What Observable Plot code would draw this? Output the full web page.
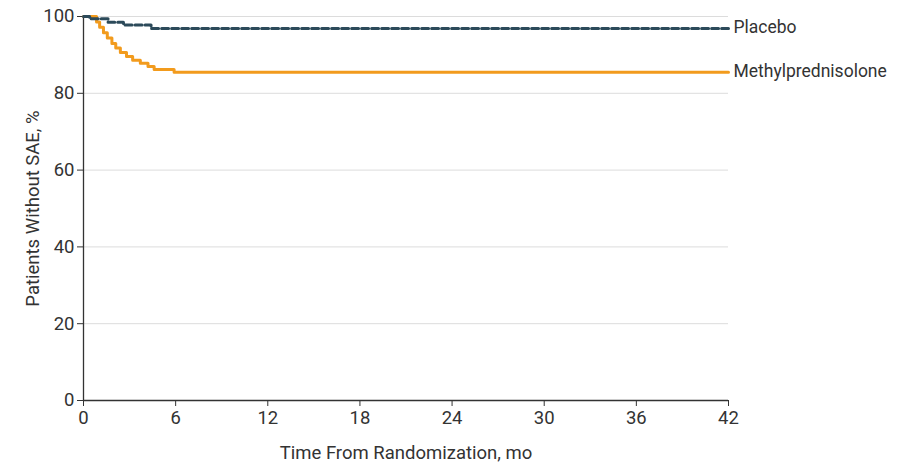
<!DOCTYPE html>
<html>
<head>
<meta charset="utf-8">
<script src="https://cdn.jsdelivr.net/npm/d3@7"></script>
<script src="https://cdn.jsdelivr.net/npm/@observablehq/plot@0.6"></script>
<style>
  html, body { margin: 0; padding: 0; background: #fff; }
  #chart { width: 901px; height: 463px; }
</style>
</head>
<body>
<div id="chart"></div>
<script>
// Kaplan-Meier style step data (time in months, % without SAE)
const placeboTimes  = [0, 0.4, 1.6, 2.6, 4.4, 42];
const placeboValues = [100, 99.4, 98.5, 97.8, 96.9, 96.9];

const methylTimes  = [0, 0.85, 1.05, 1.3, 1.55, 1.85, 2.1, 2.4, 2.8, 3.2, 3.7, 4.2, 4.6, 5.9, 42];
const methylValues = [100, 98.6, 97.2, 95.8, 94.4, 93.0, 91.8, 90.6, 89.6, 88.6, 87.8, 87.0, 86.2, 85.5, 85.5];

const seriesNames = ["Placebo", "Methylprednisolone"];
const xTicks = [0, 6, 12, 18, 24, 30, 36, 42];
const yTicks = [0, 20, 40, 60, 80, 100];

const placebo = placeboTimes.map((t, i) => ({t, v: placeboValues[i], group: seriesNames[0]}));
const methyl  = methylTimes.map((t, i) => ({t, v: methylValues[i], group: seriesNames[1]}));
const ends = [placebo[placebo.length - 1], methyl[methyl.length - 1]];

const plot = Plot.plot({
  width: 901,
  height: 463,
  marginLeft: 83,
  marginRight: 173,
  marginTop: 16,
  marginBottom: 63,
  style: {fontFamily: "Roboto, 'Noto Sans', sans-serif", fontSize: "18px", color: "#333", background: "#fff"},
  x: {domain: [0, 42]},
  y: {domain: [0, 100]},
  marks: [
    Plot.gridY(yTicks.filter(d => d > 0), {stroke: "#dcdcdc", strokeOpacity: 1}),
    Plot.axisY(yTicks, {tickSize: 6, tickPadding: 3, label: "Patients Without SAE, %", labelAnchor: "center", labelOffset: 58, labelArrow: "none", fontSize: 18.5, fill: "#333"}),
    Plot.axisX(xTicks, {tickSize: 6, tickPadding: 4, label: "Time From Randomization, mo", labelAnchor: "center", labelOffset: 58, labelArrow: "none", fontSize: 18.5, fill: "#333"}),
    Plot.ruleX([0], {stroke: "#333", strokeWidth: 1.3}),
    Plot.ruleY([0], {stroke: "#333", strokeWidth: 1.3}),
    Plot.line(methyl, {x: "t", y: "v", curve: "step-after", stroke: "#f29b1d", strokeWidth: 3}),
    Plot.line(placebo, {x: "t", y: "v", curve: "step-after", stroke: "#2c4a5a", strokeWidth: 3, strokeDasharray: "7,3"}),
    Plot.text(ends, {x: "t", y: "v", text: "group", textAnchor: "start", dx: 5, dy: -1, fill: "#333", fontSize: 17.5})
  ]
});
document.getElementById("chart").appendChild(plot);
</script>
</body>
</html>
